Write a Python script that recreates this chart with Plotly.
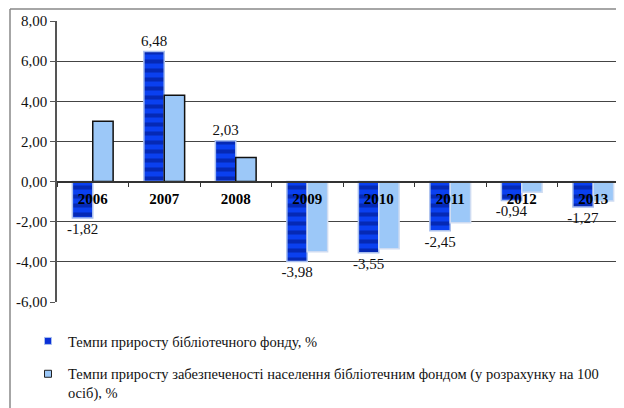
import plotly.graph_objects as go

years = ["2006", "2007", "2008", "2009", "2010", "2011", "2012", "2013"]
fund_growth = [-1.82, 6.48, 2.03, -3.98, -3.55, -2.45, -0.94, -1.27]
supply_growth = [3.0, 4.3, 1.2, -3.5, -3.35, -2.05, -0.53, -0.97]
y_ticks = [8, 6, 4, 2, 0, -2, -4, -6]
y_tick_text = ["8,00", "6,00", "4,00", "2,00", "0,00", "-2,00", "-4,00", "-6,00"]

name1 = "Темпи приросту бібліотечного фонду, %"
name2 = ("Темпи приросту забезпеченості населення бібліотечним фондом (у розрахунку на 100"
         "<br>осіб), %")

FONT = "Liberation Serif"
# page body has an 8px default margin, so the figure is drawn 8px in from the window edges
W, H = 616, 400
L, T, B = 49, 13, 106
PW, PH = W - L, H - T - B

fig = go.Figure()
fig.add_trace(go.Bar(
    x=years, y=fund_growth, name=name1, showlegend=False,
    marker=dict(
        color="#0a3ae8",
        line=dict(color="#a9bfee", width=1.5),
        pattern=dict(shape="-", fgcolor="#00127a", bgcolor="#0a40f0", size=9, solidity=0.45,
                     fillmode="overlay"),
    ),
    texttemplate="%{y:.2f}", textposition="outside", constraintext="none",
    textfont=dict(family=FONT, size=15, color="#111"),
    cliponaxis=False,
))
fig.add_trace(go.Bar(
    x=years, y=supply_growth, name=name2, showlegend=False,
    marker=dict(
        color="#9cc8f8",
        line=dict(color=["#111" if v > 0 else "#cfdcf2" for v in supply_growth], width=1.5),
    ),
))
# legend entries with small square keys
fig.add_trace(go.Scatter(
    x=[None], y=[None], mode="markers", name=name1, legendgroup="a",
    marker=dict(symbol="square", size=7, color="#0a30d8", line=dict(color="#a9bfee", width=1)),
))
fig.add_trace(go.Scatter(
    x=[None], y=[None], mode="markers", name=name2, legendgroup="b",
    marker=dict(symbol="square", size=7, color="#9cc8f8", line=dict(color="#222", width=1)),
))

fig.update_layout(
    template="none",
    width=W, height=H,
    margin=dict(l=L, r=0, t=T, b=B, autoexpand=False),
    paper_bgcolor="white", plot_bgcolor="white",
    separators=", ",
    barmode="group", bargap=0.43, bargroupgap=0,
    font=dict(family=FONT, size=14, color="#111"),
    showlegend=True,
    legend=dict(
        xref="container", yref="container",
        x=20 / W, y=1 - 317 / H, xanchor="left", yanchor="top",
        orientation="v", traceorder="grouped", tracegroupgap=11,
        itemwidth=30,
        valign="top", font=dict(family=FONT, size=14.5, color="#111"),
        bgcolor="rgba(0,0,0,0)",
    ),
    xaxis=dict(
        type="category", range=[-0.5, 7.43], automargin=False,
        anchor="free", position=6 / 14,
        showline=True, linecolor="#333", linewidth=1.5,
        ticks="outside", ticklen=5, tickcolor="#333", tickson="boundaries",
        ticklabelstandoff=4,
        tickfont=dict(family=FONT, size=15, color="#000", weight="bold"),
        showgrid=False, zeroline=False,
    ),
    yaxis=dict(
        range=[-6, 8], domain=[0, 1], automargin=False,
        tickvals=y_ticks, ticktext=y_tick_text,
        showline=True, linecolor="#555", linewidth=1.5,
        ticks="outside", ticklen=5, tickcolor="#555",
        showgrid=True, gridcolor="#444", gridwidth=1,
        zeroline=False,
        tickfont=dict(family=FONT, size=15, color="#111"),
    ),
    shapes=[
        dict(type="line", xref="paper", yref="paper", x0=(2 - L) / PW, x1=1.02,
             y0=(PH + T - 1) / PH, y1=(PH + T - 1) / PH, line=dict(color="#888", width=1.5)),
        dict(type="line", xref="paper", yref="paper", x0=(2 - L) / PW, x1=(2 - L) / PW,
             y0=(PH + T - 1) / PH, y1=-0.5, line=dict(color="#888", width=1.5)),
    ],
)

fig.write_html("out.html")
